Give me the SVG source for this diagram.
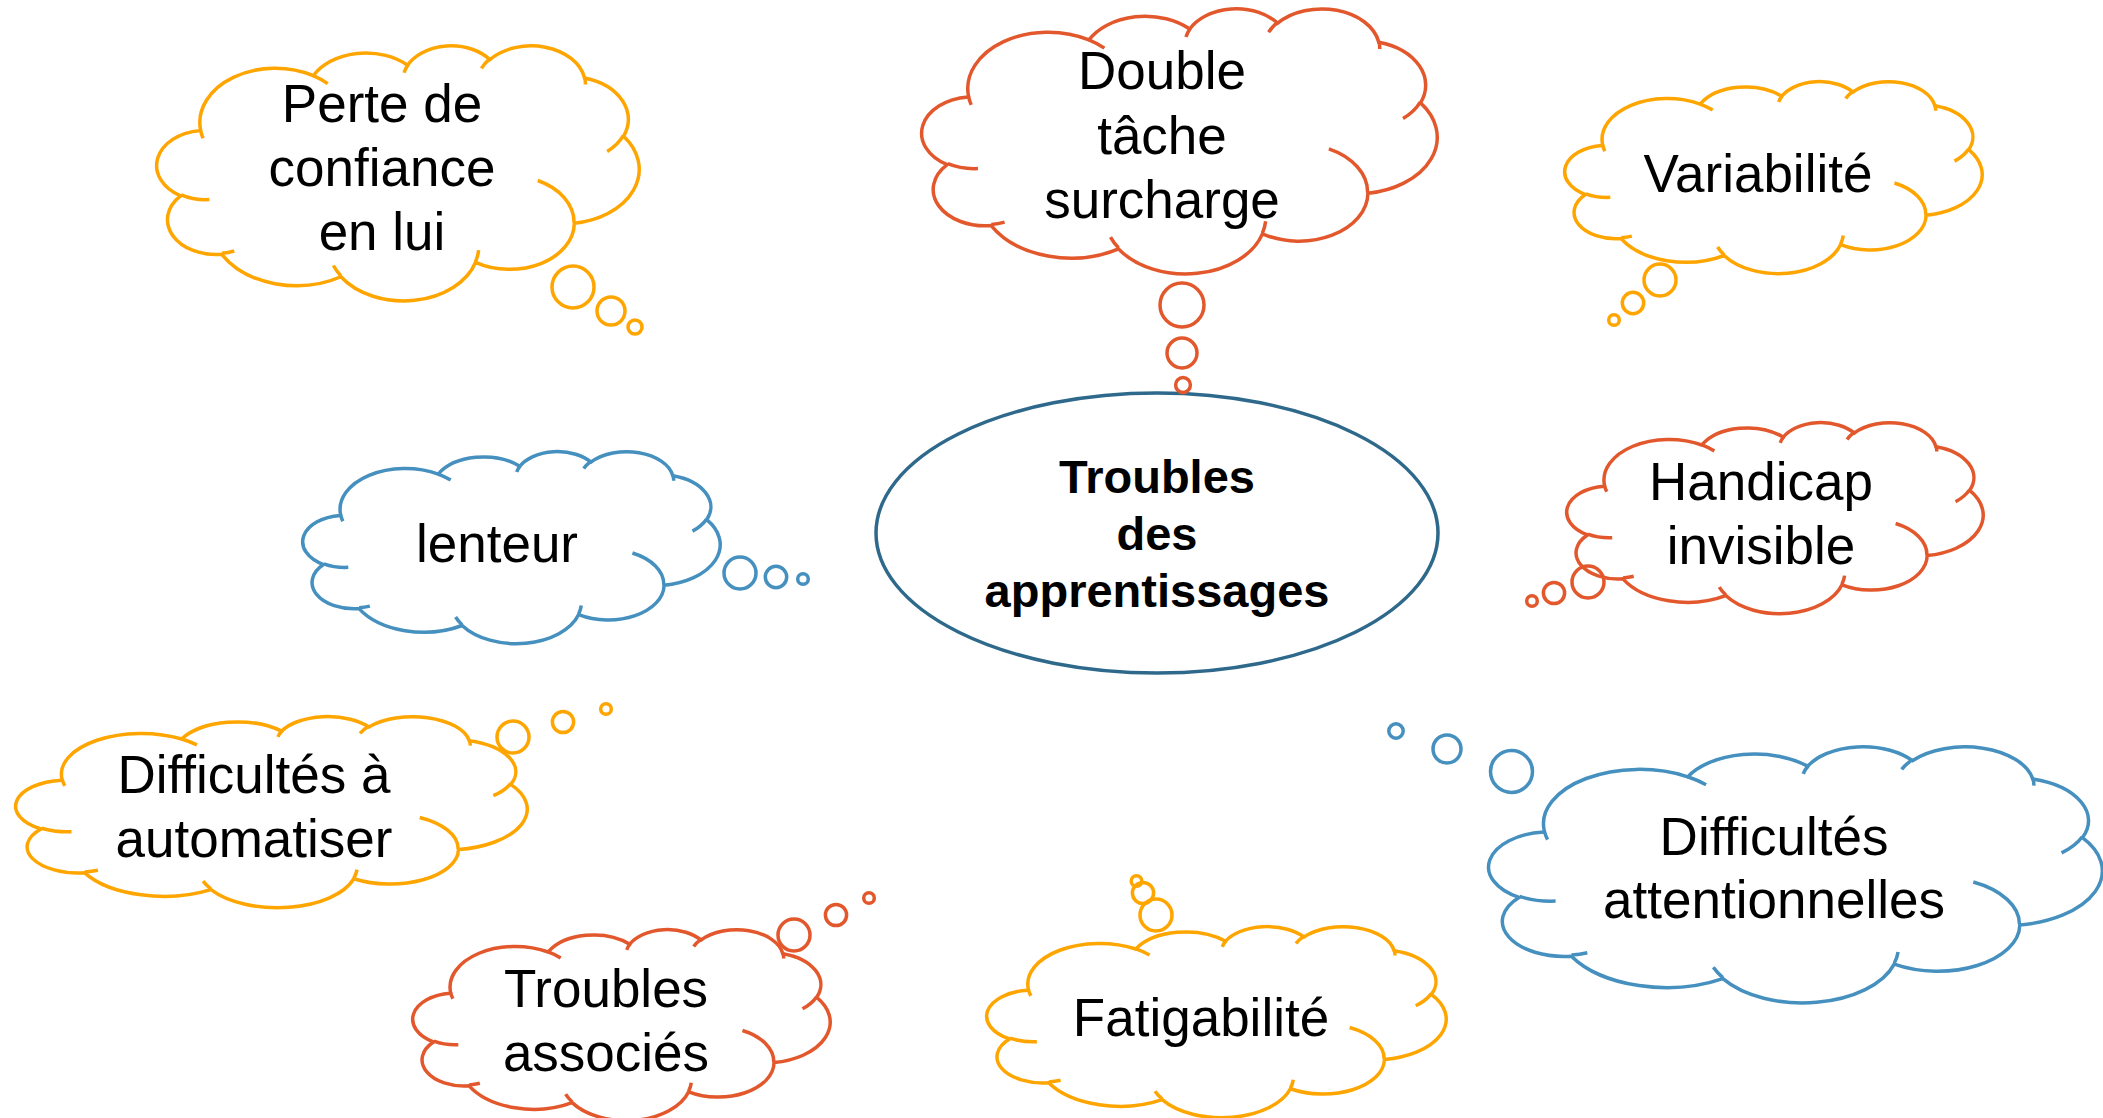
<svg xmlns="http://www.w3.org/2000/svg" xmlns:xlink="http://www.w3.org/1999/xlink" width="2103" height="1118" viewBox="0 0 2103 1118">
  <style>
    .lbl { font-family: "Liberation Sans", Arial, sans-serif; font-size: 53px; fill: #000; text-anchor: middle; }
    .ctr { font-family: "Liberation Sans", Arial, sans-serif; font-size: 47px; font-weight: bold; fill: #000; text-anchor: middle; }
    .orange { stroke: #FFA500; }
    .red { stroke: #E2582C; }
    .blue { stroke: #4590BE; }
    .shape { fill: none; stroke-width: 3.5; }
  </style>
  <defs>
    <!-- cloud outline in a 43200 x 43200 unit box -->
    <path id="cloud" vector-effect="non-scaling-stroke" d="M3900,14370 A6753,9190 0 0 1 14005,5202 A5333,7267 0 0 1 22456,3432 A4365,5945 0 0 1 29834,2481 A4857,6595 0 0 1 38319,5576 A5333,7273 0 0 1 41820,15460 A6775,9220 0 0 1 37406,30203 A5785,7867 0 0 1 28557,36813 A6752,9215 0 0 1 16482,39264 A7720,10543 0 0 1 5806,35470 A4360,5918 0 0 1 2116,25548 A4345,5945 0 0 1 3866,14505 Z"/>
    <!-- inner puff strokes -->
    <path id="puffs" vector-effect="non-scaling-stroke" d="M4693,26177 A4345,5945 0 0 1 2160,25380 M6928,34899 A4360,5918 0 0 1 5820,35281 M16478,39090 A6752,9215 0 0 1 15810,37350 M28827,34751 A6752,9215 0 0 1 28560,36660 M34129,22954 A5785,7867 0 0 1 37380,30090 M41798,15354 A5333,7273 0 0 1 40350,18030 M38324,5426 A4857,6595 0 0 1 38400,6690 M29078,3952 A4857,6595 0 0 1 29820,2340 M22141,4720 A4365,5945 0 0 1 22500,3330 M14000,5192 A6753,9190 0 0 1 15300,6540 M4127,15789 A6753,9190 0 0 1 3900,14370"/>
  </defs>

  <!-- central topic -->
  <g id="troubles-apprentissages">
    <ellipse cx="1157" cy="533" rx="281" ry="140" fill="none" stroke="#2E698C" stroke-width="3.5"/>
    <text class="ctr" x="1157" y="493">Troubles</text>
    <text class="ctr" x="1157" y="550">des</text>
    <text class="ctr" x="1157" y="607">apprentissages</text>
  </g>

  <g id="perte-confiance" class="shape orange">
    <use xlink:href="#cloud" transform="translate(157 45) scale(0.011157 0.0059028)"/>
    <use xlink:href="#puffs" transform="translate(157 45) scale(0.011157 0.0059028)"/>
    <circle cx="573" cy="287" r="21"/>
    <circle cx="611" cy="311" r="14"/>
    <circle cx="635" cy="327" r="7"/>
    <text class="lbl" stroke="none" x="382" y="122">Perte de</text>
    <text class="lbl" stroke="none" x="382" y="186">confiance</text>
    <text class="lbl" stroke="none" x="382" y="250">en lui</text>
  </g>

  <g id="double-tache" class="shape red">
    <use xlink:href="#cloud" transform="translate(922 8) scale(0.011921 0.0061343)"/>
    <use xlink:href="#puffs" transform="translate(922 8) scale(0.011921 0.0061343)"/>
    <circle cx="1182" cy="305" r="22"/>
    <circle cx="1182" cy="353" r="15"/>
    <circle cx="1183" cy="385" r="7.4"/>
    <text class="lbl" stroke="none" x="1162" y="89">Double</text>
    <text class="lbl" stroke="none" x="1162" y="154">tâche</text>
    <text class="lbl" stroke="none" x="1162" y="218">surcharge</text>
  </g>

  <g id="variabilite" class="shape orange">
    <use xlink:href="#cloud" transform="translate(1565 81) scale(0.0096528 0.0044444)"/>
    <use xlink:href="#puffs" transform="translate(1565 81) scale(0.0096528 0.0044444)"/>
    <circle cx="1660" cy="280" r="16"/>
    <circle cx="1633" cy="303" r="10.7"/>
    <circle cx="1614" cy="320" r="5.3"/>
    <text class="lbl" stroke="none" x="1758" y="192">Variabilité</text>
  </g>

  <g id="handicap-invisible" class="shape red">
    <use xlink:href="#cloud" transform="translate(1567 422) scale(0.0096296 0.0044213)"/>
    <use xlink:href="#puffs" transform="translate(1567 422) scale(0.0096296 0.0044213)"/>
    <circle cx="1588" cy="582" r="16"/>
    <circle cx="1554" cy="593" r="10.6"/>
    <circle cx="1532" cy="601" r="5.3"/>
    <text class="lbl" stroke="none" x="1761" y="500">Handicap</text>
    <text class="lbl" stroke="none" x="1761" y="564">invisible</text>
  </g>

  <g id="lenteur" class="shape blue">
    <use xlink:href="#cloud" transform="translate(303 451) scale(0.0096528 0.0044444)"/>
    <use xlink:href="#puffs" transform="translate(303 451) scale(0.0096528 0.0044444)"/>
    <circle cx="740" cy="573" r="16"/>
    <circle cx="776" cy="577" r="10.7"/>
    <circle cx="803" cy="579" r="5.3"/>
    <text class="lbl" stroke="none" x="497" y="562">lenteur</text>
  </g>

  <g id="difficultes-automatiser" class="shape orange">
    <use xlink:href="#cloud" transform="translate(16 716) scale(0.011829 0.0044213)"/>
    <use xlink:href="#puffs" transform="translate(16 716) scale(0.011829 0.0044213)"/>
    <circle cx="513" cy="737" r="16"/>
    <circle cx="563" cy="722" r="10.6"/>
    <circle cx="606" cy="709" r="5.3"/>
    <text class="lbl" stroke="none" x="254" y="793">Difficultés à</text>
    <text class="lbl" stroke="none" x="254" y="857">automatiser</text>
  </g>

  <g id="troubles-associes" class="shape red">
    <use xlink:href="#cloud" transform="translate(413 929) scale(0.0096528 0.0044213)"/>
    <use xlink:href="#puffs" transform="translate(413 929) scale(0.0096528 0.0044213)"/>
    <circle cx="794" cy="935" r="16"/>
    <circle cx="836" cy="915" r="10.6"/>
    <circle cx="869" cy="898" r="5.3"/>
    <text class="lbl" stroke="none" x="606" y="1007">Troubles</text>
    <text class="lbl" stroke="none" x="606" y="1071">associés</text>
  </g>

  <g id="fatigabilite" class="shape orange">
    <use xlink:href="#cloud" transform="translate(987 926) scale(0.010625 0.0044213)"/>
    <use xlink:href="#puffs" transform="translate(987 926) scale(0.010625 0.0044213)"/>
    <circle cx="1156" cy="915" r="16"/>
    <circle cx="1143" cy="893" r="10.6"/>
    <circle cx="1136.5" cy="881" r="5.3"/>
    <text class="lbl" stroke="none" x="1201" y="1036">Fatigabilité</text>
  </g>

  <g id="difficultes-attentionnelles" class="shape blue">
    <use xlink:href="#cloud" transform="translate(1489 746) scale(0.01419 0.0059259)"/>
    <use xlink:href="#puffs" transform="translate(1489 746) scale(0.01419 0.0059259)"/>
    <circle cx="1511.5" cy="771.5" r="21"/>
    <circle cx="1447" cy="749" r="14"/>
    <circle cx="1396" cy="731" r="7.2"/>
    <text class="lbl" stroke="none" x="1774" y="855">Difficultés</text>
    <text class="lbl" stroke="none" x="1774" y="918">attentionnelles</text>
  </g>

  <!-- the thought bubbles above stand in for connectors; no separate edges -->
  <g id="connectors"/>
</svg>
